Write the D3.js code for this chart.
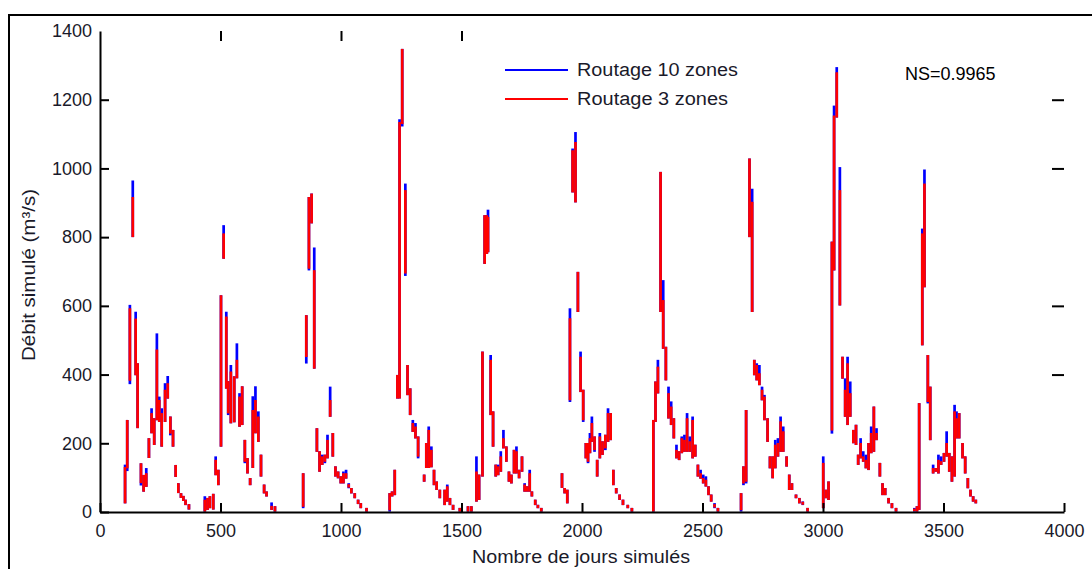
<!DOCTYPE html>
<html lang="fr">
<head>
  <meta charset="UTF-8">
  <title>Débit simulé</title>
  <script src="https://d3js.org/d3.v7.min.js"></script>
  <style>
    html, body {
      margin: 0;
      padding: 0;
      background: #fff;
    }
    text {
      font-family: "Liberation Sans", Arial, sans-serif;
      fill: #1a1a2a;
    }
    .axis path, .axis line {
      stroke: #000;
      stroke-width: 2;
    }
    .serie {
      fill: none;
      stroke-width: 2.7;
      stroke-linecap: butt;
    }
  </style>
</head>
<body>
  <div id="chart"></div>
  <script>
    const xTicks = [0, 500, 1000, 1500, 2000, 2500, 3000, 3500, 4000];
    const yTicks = [0, 200, 400, 600, 800, 1000, 1200, 1400];
    const seriesNames = ['Routage 10 zones', 'Routage 3 zones'];

    // [jour, min, max] for each plotted column
    const routage3 = [
      [104,28,128],[113,130,265],[124,385,590],[136,803,914],[148,401,560],[156,247,430],[170,87,139],[181,62,105],
      [192,76,110],[203,160,212],[214,232,285],[225,198,270],[236,270,470],[246,265,323],[256,193,285],[270,265,353],
      [281,333,372],[292,231,275],[303,193,236],[314,105,134],[325,58,81],[336,44,52],[346,35,44],[355,23,33],
      [369,10,20],[435,4,33],[446,9,38],[456,14,43],[470,10,50],[480,110,149],[491,81,120],[502,193,628],
      [513,740,808],[524,362,566],[532,290,378],[543,261,406],[557,264,392],[568,392,440],[579,251,333],[590,256,363],
      [601,149,207],[612,115,154],[623,81,96],[634,131,294],[645,232,323],[657,207,275],[668,106,164],[681,57,77],
      [691,48,57],[712,9,15],[726,4,14],[843,18,110],[856,454,570],[867,711,914],[878,843,924],[889,420,701],
      [900,178,241],[911,120,174],[922,140,159],[933,149,164],[944,159,207],[955,280,323],[966,164,227],[977,106,130],
      [988,101,115],[999,86,101],[1010,86,110],[1021,100,110],[1032,74,78],[1043,57,67],[1057,43,52],[1071,26,33],
      [1082,14,23],[1106,4,9],[1202,8,52],[1212,48,57],[1223,52,120],[1234,333,396],[1243,333,1132],[1254,1132,1345],
      [1267,697,934],[1276,343,425],[1287,285,357],[1298,236,256],[1309,217,246],[1320,164,217],[1345,91,106],[1354,131,198],
      [1364,131,236],[1375,133,178],[1386,81,120],[1397,67,86],[1410,43,62],[1430,23,62],[1441,33,72],[1452,23,38],
      [1465,9,18],[1493,4,9],[1527,4,14],[1541,4,14],[1562,33,115],[1573,38,106],[1587,106,464],[1596,725,861],
      [1605,754,861],[1610,759,856],[1621,285,440],[1631,193,290],[1642,106,135],[1652,110,130],[1663,120,159],[1674,188,212],
      [1686,149,188],[1697,91,115],[1707,86,106],[1718,115,178],[1728,115,174],[1739,101,120],[1751,120,159],[1762,62,77],
      [1773,62,72],[1783,62,110],[1792,48,57],[1806,23,33],[1817,14,18],[1831,4,9],[1917,73,110],[1928,57,67],
      [1939,28,62],[1950,328,561],[1961,933,1050],[1973,904,1074],[1983,585,696],[1994,352,449],[2005,270,353],[2016,159,198],
      [2025,149,198],[2033,174,212],[2041,207,256],[2052,183,217],[2063,106,149],[2074,159,217],[2085,169,203],[2097,188,222],
      [2108,207,285],[2119,212,285],[2130,81,120],[2142,57,67],[2156,38,48],[2170,23,33],[2190,14,18],[2207,4,9],
      [2296,4,265],[2305,265,377],[2315,348,420],[2326,585,987],[2337,478,614],[2348,386,478],[2359,275,343],[2370,256,304],
      [2381,217,270],[2392,159,178],[2403,154,174],[2414,174,212],[2425,178,207],[2436,178,270],[2447,178,203],[2459,159,265],
      [2470,164,193],[2481,106,135],[2492,100,110],[2503,86,96],[2514,77,91],[2525,52,72],[2536,33,48],[2550,16,20],
      [2564,4,9],[2660,8,52],[2670,86,130],[2681,91,294],[2695,803,1026],[2706,585,900],[2715,401,440],[2725,386,425],
      [2736,372,401],[2747,328,353],[2757,270,333],[2770,207,270],[2780,130,159],[2791,101,159],[2802,130,193],[2813,164,198],
      [2824,178,261],[2835,178,232],[2849,135,159],[2860,67,106],[2871,67,81],[2888,43,48],[2902,28,38],[2916,24,27],
      [2936,4,9],[3001,14,140],[3012,43,62],[3023,38,86],[3037,240,784],[3046,706,1151],[3057,1151,1277],[3070,604,934],
      [3081,391,449],[3092,280,353],[3102,256,430],[3113,280,343],[3126,203,236],[3137,198,251],[3146,140,164],[3156,159,198],
      [3167,149,159],[3178,130,149],[3189,125,198],[3200,174,227],[3211,178,304],[3222,212,227],[3236,106,140],[3247,52,81],
      [3258,52,67],[3272,28,38],[3286,14,23],[3303,4,9],[3379,5,7],[3390,4,14],[3399,9,314],[3412,488,808],
      [3421,657,953],[3435,323,454],[3445,212,362],[3457,115,125],[3468,120,125],[3479,115,149],[3490,140,145],[3502,149,169],
      [3513,164,198],[3524,120,169],[3535,91,159],[3546,106,290],[3554,217,270],[3565,217,285],[3579,159,198],[3590,115,159],
      [3601,72,96],[3612,48,62],[3623,33,43],[3634,28,33]
    ];

    const routage10 = [
      [104,28,135],[113,122,265],[124,375,600],[136,803,962],[148,401,580],[156,247,430],[170,80,139],[181,62,105],
      [192,76,125],[203,160,212],[214,232,299],[225,198,270],[236,270,517],[246,265,333],[256,193,299],[270,265,372],
      [281,333,393],[292,226,275],[303,193,236],[314,105,134],[325,58,81],[336,44,52],[346,35,44],[355,23,33],
      [369,10,20],[435,4,43],[446,9,38],[456,14,43],[470,10,50],[480,110,159],[491,81,120],[502,193,628],
      [513,740,832],[524,362,580],[532,285,378],[543,261,425],[557,264,392],[568,392,488],[579,251,343],[590,256,363],
      [601,145,207],[612,115,154],[623,81,96],[634,131,334],[645,232,363],[657,207,290],[668,106,164],[681,57,77],
      [691,48,57],[712,9,25],[726,4,14],[843,14,110],[856,435,570],[867,706,914],[878,843,924],[889,420,767],
      [900,178,241],[911,120,174],[922,140,164],[933,145,164],[944,159,222],[955,280,362],[966,164,227],[977,106,130],
      [988,101,115],[999,86,101],[1010,86,115],[1021,100,120],[1032,72,81],[1043,57,67],[1057,43,52],[1071,26,33],
      [1082,14,23],[1106,4,9],[1202,4,52],[1212,48,57],[1223,52,120],[1234,333,396],[1243,333,1140],[1254,1125,1345],
      [1267,690,953],[1276,343,425],[1287,285,357],[1298,236,265],[1309,217,256],[1320,159,217],[1345,91,106],[1354,131,198],
      [1364,131,246],[1375,133,188],[1386,81,120],[1397,67,86],[1410,43,62],[1430,23,62],[1441,33,77],[1452,23,38],
      [1465,9,18],[1493,4,9],[1527,4,14],[1541,4,14],[1562,33,159],[1573,38,106],[1587,106,464],[1596,725,861],
      [1605,754,861],[1610,759,877],[1621,285,454],[1631,193,290],[1642,106,135],[1652,110,135],[1663,120,174],[1674,188,236],
      [1686,149,188],[1697,91,115],[1707,86,106],[1718,115,178],[1728,115,188],[1739,101,120],[1751,120,159],[1762,62,81],
      [1773,62,72],[1783,62,120],[1792,48,57],[1806,23,33],[1817,14,18],[1831,4,9],[1917,73,110],[1928,57,67],
      [1939,28,62],[1950,323,590],[1961,933,1055],[1973,904,1103],[1983,585,696],[1994,352,464],[2005,265,353],[2016,159,198],
      [2025,145,198],[2033,174,227],[2041,207,275],[2052,178,217],[2063,106,149],[2074,159,227],[2085,169,203],[2097,183,222],
      [2108,207,299],[2119,212,285],[2130,81,120],[2142,57,67],[2156,38,48],[2170,23,33],[2190,14,18],[2207,4,9],
      [2296,4,265],[2305,265,377],[2315,348,440],[2326,585,987],[2337,478,672],[2348,386,478],[2359,275,362],[2370,256,319],
      [2381,217,270],[2392,159,193],[2403,154,174],[2414,174,217],[2425,178,222],[2436,178,285],[2447,178,217],[2459,159,275],
      [2470,164,193],[2481,106,135],[2492,100,120],[2503,86,106],[2514,77,101],[2525,52,72],[2536,33,48],[2550,14,23],
      [2564,4,9],[2660,4,52],[2670,81,130],[2681,86,294],[2695,803,1026],[2706,585,938],[2715,401,440],[2725,386,430],
      [2736,372,425],[2747,328,362],[2757,270,338],[2770,207,270],[2780,130,159],[2791,101,159],[2802,130,207],[2813,164,212],
      [2824,178,275],[2835,178,246],[2849,135,159],[2860,67,106],[2871,67,81],[2888,43,48],[2902,28,38],[2916,23,28],
      [2936,4,9],[3001,14,159],[3012,43,62],[3023,38,86],[3037,231,784],[3046,706,1180],[3057,1151,1292],[3070,604,1001],
      [3081,391,449],[3092,280,386],[3102,256,449],[3113,280,377],[3126,203,236],[3137,198,251],[3146,140,164],[3156,159,212],
      [3167,149,174],[3178,130,164],[3189,125,198],[3200,174,246],[3211,178,304],[3222,212,241],[3236,106,140],[3247,52,81],
      [3258,52,67],[3272,28,38],[3286,14,23],[3303,4,9],[3379,4,9],[3390,4,14],[3399,9,314],[3412,488,822],
      [3421,657,994],[3435,319,454],[3445,212,362],[3457,115,135],[3468,120,125],[3479,115,164],[3490,140,159],[3502,149,169],
      [3513,164,232],[3524,120,169],[3535,91,159],[3546,106,309],[3554,217,290],[3565,217,285],[3579,159,198],[3590,115,159],
      [3601,72,96],[3612,48,62],[3623,33,43],[3634,28,33]
    ];

    const width = 1092;
    const height = 569;

    const svg = d3.select('#chart').append('svg')
      .attr('width', width).attr('height', height);

    // outer frame of the figure (runs off right and bottom)
    svg.append('rect')
      .attr('x', 9).attr('y', 15).attr('width', 1100).attr('height', 600)
      .attr('fill', 'none').attr('stroke', '#000').attr('stroke-width', 2);

    const x = d3.scaleLinear().domain([0, 4000]).range([100, 1064]);
    const y = d3.scaleLinear().domain([0, 1400]).range([512, 31]);

    // series: blue drawn first, red on top
    function drawSerie(data, color) {
      svg.append('g').selectAll('line').data(data).join('line')
        .attr('class', 'serie')
        .attr('stroke', color)
        .attr('x1', d => x(d[0])).attr('x2', d => x(d[0]))
        .attr('y1', d => y(d[1]) + 1).attr('y2', d => y(d[2]) - 1);
    }
    drawSerie(routage10, '#0000ff');
    drawSerie(routage3, '#ff0000');

    // axes
    const xAxis = svg.append('g').attr('class', 'axis')
      .attr('transform', `translate(0,${y(0)})`)
      .call(d3.axisBottom(x).tickValues(xTicks).tickFormat(d3.format('d'))
        .tickSize(-9).tickSizeOuter(0).tickPadding(12));
    xAxis.selectAll('text').attr('font-size', 18);

    const yAxis = svg.append('g').attr('class', 'axis')
      .attr('transform', `translate(${x(0)},0)`)
      .call(d3.axisLeft(y).tickValues(yTicks).tickFormat(d3.format('d'))
        .tickSize(-9).tickSizeOuter(0).tickPadding(8));
    yAxis.selectAll('text').attr('font-size', 18);
    yAxis.selectAll('.tick line').filter(d => d === 1400).remove();

    // stray tick marks of the box (top and right)
    svg.append('g').attr('class', 'axis')
      .attr('transform', `translate(0,${y(1400)})`)
      .call(d3.axisTop(x).tickValues([500, 1000, 1500]).tickSize(-10).tickFormat(''))
      .select('.domain').remove();
    svg.append('g').attr('class', 'axis')
      .attr('transform', `translate(${x(4000)},0)`)
      .call(d3.axisRight(y).tickValues([400, 600, 1000, 1200]).tickSize(-12).tickFormat(''))
      .select('.domain').remove();

    // axis titles
    svg.append('text')
      .attr('x', 581).attr('y', 563)
      .attr('text-anchor', 'middle').attr('font-size', 18)
      .attr('textLength', 218).attr('lengthAdjust', 'spacingAndGlyphs')
      .text('Nombre de jours simulés');

    svg.append('text')
      .attr('transform', 'translate(35,275) rotate(-90)')
      .attr('text-anchor', 'middle').attr('font-size', 18)
      .attr('textLength', 172).attr('lengthAdjust', 'spacingAndGlyphs')
      .text('Débit simulé (m³/s)');

    // legend
    const legend = svg.append('g').attr('transform', 'translate(505,70)');
    seriesNames.forEach((name, i) => {
      const row = legend.append('g').attr('transform', `translate(0,${i * 29})`);
      row.append('line').attr('x1', 0).attr('x2', 63)
        .attr('stroke', i === 0 ? '#0000ff' : '#ff0000').attr('stroke-width', 2);
      row.append('text').attr('x', 72).attr('dy', '0.35em').attr('font-size', 18)
        .attr('textLength', i === 0 ? 161 : 151).attr('lengthAdjust', 'spacingAndGlyphs')
        .text(name);
    });

    svg.append('text')
      .attr('x', 905).attr('y', 80)
      .attr('font-family', '"Liberation Serif", "Times New Roman", serif')
      .attr('font-size', 18).style('fill', '#000')
      .text('NS=0.9965');
  </script>
</body>
</html>
